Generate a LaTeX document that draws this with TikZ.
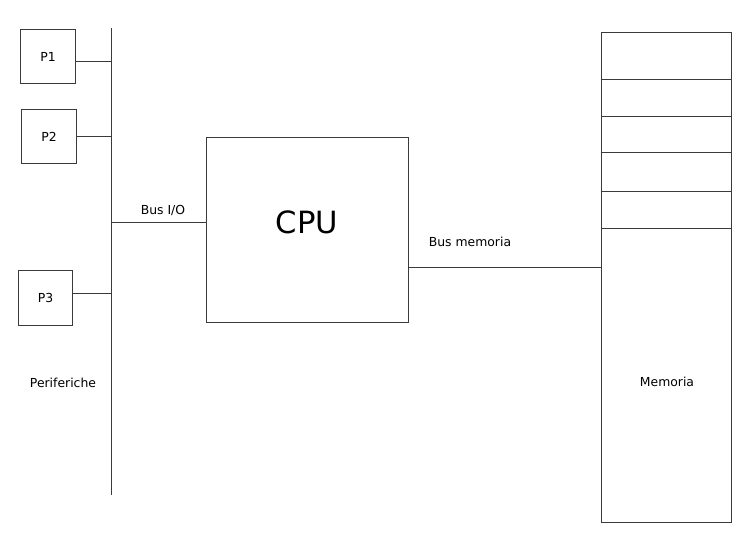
\documentclass[tikz,border=0pt]{standalone}
\usepackage{fontspec}
\setmainfont{DejaVu Sans}
\usetikzlibrary{positioning,calc}
\definecolor{Line}{HTML}{3A3A3A}
\tikzset{
periphbox/.style={draw=Line, line width=0.7pt, minimum width=41pt, minimum height=41pt, inner sep=0pt},
cpubox/.style={draw=Line, line width=0.7pt, minimum width=151.5pt, minimum height=138.75pt, inner sep=0pt},
membox/.style={draw=Line, line width=0.7pt, minimum width=97.5pt, minimum height=367.5pt, inner sep=0pt},
busline/.style={draw=Line, line width=0.7pt},
buslabel/.style={font=\fontsize{9.3}{11}\selectfont, inner sep=0pt}
}
\begin{document}
\begin{tikzpicture}[x=0.75pt, y=-0.75pt, font=\fontsize{9.3}{11}\selectfont]
  \useasboundingbox (0,0) rectangle (753,540);
  % peripherals
  \node[periphbox] (p1) at (48,56.5) {P1};
  \node[periphbox] (p2) at (49,136.5) {P2};
  \node[periphbox] (p3) at (45.5,298) {P3};
  \node[buslabel] (periph) at (63,383) {Periferiche};
  \coordinate (iotop) at (111,28);
  \coordinate (iobot) at (111,495);
  \draw[busline] (iotop) -- (iobot);
  \draw[busline] (p1.east |- 0,61) -- (iotop |- 0,61);
  \draw[busline] (p2.east) -- (p2.east -| iotop);
  \draw[busline] (p3.east |- 0,293) -- (iotop |- 0,293);
  % cpu
  \node[cpubox] (cpu) at (307,229.5) {};
  \node[font=\fontsize{23}{27}\selectfont, inner sep=0pt] (cpulabel) at (307,222) {CPU};
  \draw[busline] (iotop |- 0,222) -- (cpu.west |- 0,222);
  \node[buslabel] (iolabel) at (163,210) {Bus I/O};
  % memory
  \node[membox] (mem) at (666,277) {};
  \node[buslabel] (memlabel) at (667,382) {Memoria};
  \foreach \y in {79,116,152,191,228}
    \draw[busline] (mem.west |- 0,\y) -- (mem.east |- 0,\y);
  \draw[busline] (cpu.east |- 0,267) -- (mem.west |- 0,267);
  \node[buslabel] (membus) at (470,242) {Bus memoria};
\end{tikzpicture}
\end{document}
